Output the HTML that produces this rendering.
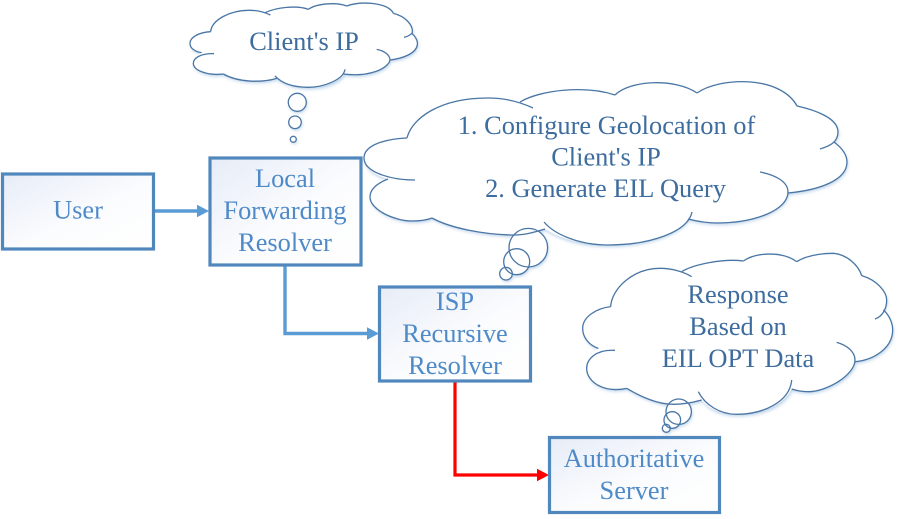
<!DOCTYPE html>
<html>
<head>
<meta charset="utf-8">
<style>
html,body{margin:0;padding:0;background:#fff;width:898px;height:519px;overflow:hidden}
svg{display:block}
text{font-family:"Liberation Serif",serif;font-size:26.4px;text-anchor:middle}
.b{fill:#4f8ac8}
.c{fill:#3d6c9e}
.box{fill:url(#g);stroke:#5087bd;stroke-width:3.2}
.o{fill:none;stroke:#4a76a5;stroke-width:1.3}
.ov{fill:none;stroke:#4a76a5;stroke-width:1.3;vector-effect:non-scaling-stroke}
.f{fill:#fff;stroke:none}
</style>
</head>
<body>
<svg width="898" height="519" viewBox="0 0 898 519" xmlns="http://www.w3.org/2000/svg">
<defs>
<linearGradient id="g" x1="0" y1="0" x2="1" y2="1">
<stop offset="0" stop-color="#e6ecf7"/>
<stop offset="0.55" stop-color="#fbfcfe"/>
<stop offset="1" stop-color="#ffffff"/>
</linearGradient>
<filter id="s" x="-10%" y="-10%" width="120%" height="125%">
<feDropShadow dx="1" dy="2" stdDeviation="1.5" flood-color="#5b93cc" flood-opacity="0.4"/>
</filter>
</defs>

<!-- connectors -->
<g fill="none" stroke="#5b9bd5" stroke-width="3.4">
<path d="M154 211H198"/>
<path d="M285 265V333.500H368"/>
</g>
<path d="M197 204.700L209 211L197 217.300Z" fill="#5b9bd5"/>
<path d="M367 327.200L379 333.500L367 339.800Z" fill="#5b9bd5"/>
<path d="M455 381V475H538" fill="none" stroke="#ff0000" stroke-width="3.2"/>
<path d="M537 468.700L549 475L537 481.300Z" fill="#ff0000"/>

<!-- boxes -->
<rect class="box" x="2.500" y="174" width="151" height="75"/>
<rect class="box" x="210" y="158" width="151" height="107"/>
<rect class="box" x="379.500" y="287" width="151" height="94"/>
<rect class="box" x="549.500" y="437.500" width="170" height="75"/>

<text class="b" x="78" y="218.500">User</text>
<text class="b" x="285" y="187">Local</text>
<text class="b" x="285" y="219">Forwarding</text>
<text class="b" x="285" y="251">Resolver</text>
<text class="b" x="455" y="310">ISP</text>
<text class="b" x="455" y="342">Recursive</text>
<text class="b" x="455" y="374">Resolver</text>
<text class="b" x="634" y="467">Authoritative</text>
<text class="b" x="634" y="499">Server</text>

<!-- cloud 1 -->
<g filter="url(#s)"><path class="f" transform="translate(180 0) scale(.33333)" d="M92,95 C95,60 150,30 210,31 C225,31 240,33 255,38 C290,22 350,15 385,28 C410,10 470,6 500,18 C545,2 625,8 640,40 C675,48 700,75 697,98 C708,110 714,125 712,135 C708,160 670,175 630,180 C625,205 570,232 493,222 C470,250 430,262 385,262 C345,262 310,250 290,235 C240,250 170,245 130,222 C80,228 40,210 40,190 C40,178 50,165 65,158 C45,155 30,145 30,130 C30,110 60,97 92,95Z"/>
<circle cx="297.300" cy="102.300" r="9" fill="#fff"/><circle cx="295" cy="122.300" r="6.300" fill="#fff"/><circle cx="293.300" cy="139.300" r="3" fill="#fff"/></g>
<g transform="translate(180 0) scale(.33333)">
<path class="ov" d="M92,95 C95,60 150,30 210,31 C235,31 255,37 271,45"/>
<path class="ov" d="M255,38 C290,22 350,15 385,28"/>
<path class="ov" d="M385,28 C410,10 470,6 500,18"/>
<path class="ov" d="M500,18 C545,2 625,8 640,40"/>
<path class="ov" d="M640,40 C675,48 700,75 697,98 C692,105 682,110 672,112"/>
<path class="ov" d="M695,100 C708,110 714,125 712,135 C708,160 670,175 630,180"/>
<path class="ov" d="M590,148 C612,152 630,165 630,180 C625,205 570,232 490,222"/>
<path class="ov" d="M495,208 C490,240 430,262 385,262 C340,262 305,250 285,228"/>
<path class="ov" d="M290,235 C240,250 170,245 130,222"/>
<path class="ov" d="M130,222 C80,228 40,210 40,190 C40,175 60,160 102,161"/>
<path class="ov" d="M65,158 C45,155 30,145 30,130 C30,110 60,97 92,95"/>
</g>
<circle class="o" cx="297.300" cy="102.300" r="9"/>
<circle class="o" cx="295" cy="122.300" r="6.300"/>
<circle class="o" cx="293.300" cy="139.300" r="3"/>
<text class="c" x="304" y="50">Client's IP</text>

<!-- cloud 2 -->
<g filter="url(#s)"><path class="f" d="M407,138 C412,118 440,98 488,98 C500,98 510,100 520,102 C540,90 585,85 615,95 C630,80 675,78 697,93 C720,77 780,75 797,106 C815,110 838,118 838,132 C838,136 836,139 834,142 C842,148 847,155 847,162 C847,180 820,190 788,193 C785,210 755,223 717,223 C706,223 696,221 688,219 C680,232 650,245 608,245 C580,245 560,238 545,229 C535,232 525,235 515,235 C485,235 450,228 432,218 C427,220 420,221 412,221 C395,221 370,210 370,197 C370,189 378,183 388,179 C375,175 364,168 364,158 C364,145 385,139 407,138Z"/>
<circle cx="528.300" cy="247.700" r="19.300" fill="#fff"/><circle cx="516.700" cy="261.700" r="13" fill="#fff"/><circle cx="506" cy="273.700" r="6.300" fill="#fff"/></g>
<path class="o" d="M407,138 C412,118 440,98 488,98 C505,98 520,102 533,108"/>
<path class="o" d="M520,102 C540,90 585,85 615,95"/>
<path class="o" d="M615,95 C630,80 675,78 697,93"/>
<path class="o" d="M697,93 C720,77 780,75 797,106"/>
<path class="o" d="M797,106 C815,110 838,118 838,132 C838,142 830,146 820,149"/>
<path class="o" d="M834,142 C842,148 847,155 847,162 C847,180 820,190 788,193"/>
<path class="o" d="M760,172 C776,175 788,182 788,192 C788,210 755,223 717,223 C706,223 696,221 688,219"/>
<path class="o" d="M692,212 C688,232 650,245 608,245 C580,245 555,235 544,222"/>
<path class="o" d="M432,218 C450,228 485,235 515,235 C525,235 535,232 545,229"/>
<path class="o" d="M388,179 C378,183 370,189 370,197 C370,210 395,221 412,221 C420,221 427,220 432,218"/>
<path class="o" d="M407,138 C385,139 364,145 364,158 C364,172 390,180 415,180"/>
<circle class="o" cx="528.300" cy="247.700" r="19.300"/>
<circle class="o" cx="516.700" cy="261.700" r="13"/>
<circle class="o" cx="506" cy="273.700" r="6.300"/>
<text class="c" x="606.500" y="134">1. Configure Geolocation of</text>
<text class="c" x="606" y="165.500">Client's IP</text>
<text class="c" x="605.500" y="197">2. Generate EIL Query</text>

<!-- cloud 3 -->
<g filter="url(#s)"><path class="f" transform="translate(570 245) scale(.33333)" d="M122,185 C125,130 190,70 270,70 C295,70 315,73 335,80 C370,58 460,40 520,48 C560,20 640,20 680,50 C720,25 780,25 790,25 C830,28 865,60 875,92 C920,105 950,140 950,165 C950,175 947,185 940,195 C958,210 968,235 968,255 C968,310 910,345 855,350 C855,390 770,440 715,440 C695,440 680,437 665,432 C640,480 580,508 500,508 C450,508 415,490 395,465 C370,472 345,478 310,478 C270,478 220,460 170,430 C100,445 50,410 50,370 C50,345 65,322 85,310 C55,300 38,275 38,250 C38,215 80,190 122,185Z"/>
<circle cx="678.700" cy="411.700" r="12.700" fill="#fff"/><circle cx="672.300" cy="420" r="8.300" fill="#fff"/><circle cx="666.300" cy="428.300" r="4" fill="#fff"/></g>
<g transform="translate(570 245) scale(.33333)">
<path class="ov" d="M122,185 C125,130 190,70 270,70 C305,70 340,80 365,95"/>
<path class="ov" d="M335,80 C370,58 460,40 520,48"/>
<path class="ov" d="M520,48 C560,20 640,20 680,50"/>
<path class="ov" d="M680,50 C720,25 780,25 790,25 C830,28 865,60 875,92"/>
<path class="ov" d="M875,92 C920,105 950,140 950,165 C950,195 935,215 915,222"/>
<path class="ov" d="M940,195 C958,210 968,235 968,255 C968,310 910,345 855,350"/>
<path class="ov" d="M800,292 C830,300 855,320 855,345 C855,390 770,440 715,440 C695,440 680,437 665,432"/>
<path class="ov" d="M665,405 C660,470 580,508 500,508 C450,508 405,480 385,440"/>
<path class="ov" d="M170,430 C220,460 270,478 310,478 C345,478 370,472 395,465"/>
<path class="ov" d="M170,430 C100,445 50,410 50,370 C50,345 75,312 135,316"/>
<path class="ov" d="M85,310 C55,300 38,275 38,250 C38,215 80,190 122,185"/>
</g>
<circle class="o" cx="678.700" cy="411.700" r="12.700"/>
<circle class="o" cx="672.300" cy="420" r="8.300"/>
<circle class="o" cx="666.300" cy="428.300" r="4"/>
<text class="c" x="738" y="303">Response</text>
<text class="c" x="738" y="335">Based on</text>
<text class="c" x="738" y="367">EIL OPT Data</text>
</svg>
</body>
</html>
